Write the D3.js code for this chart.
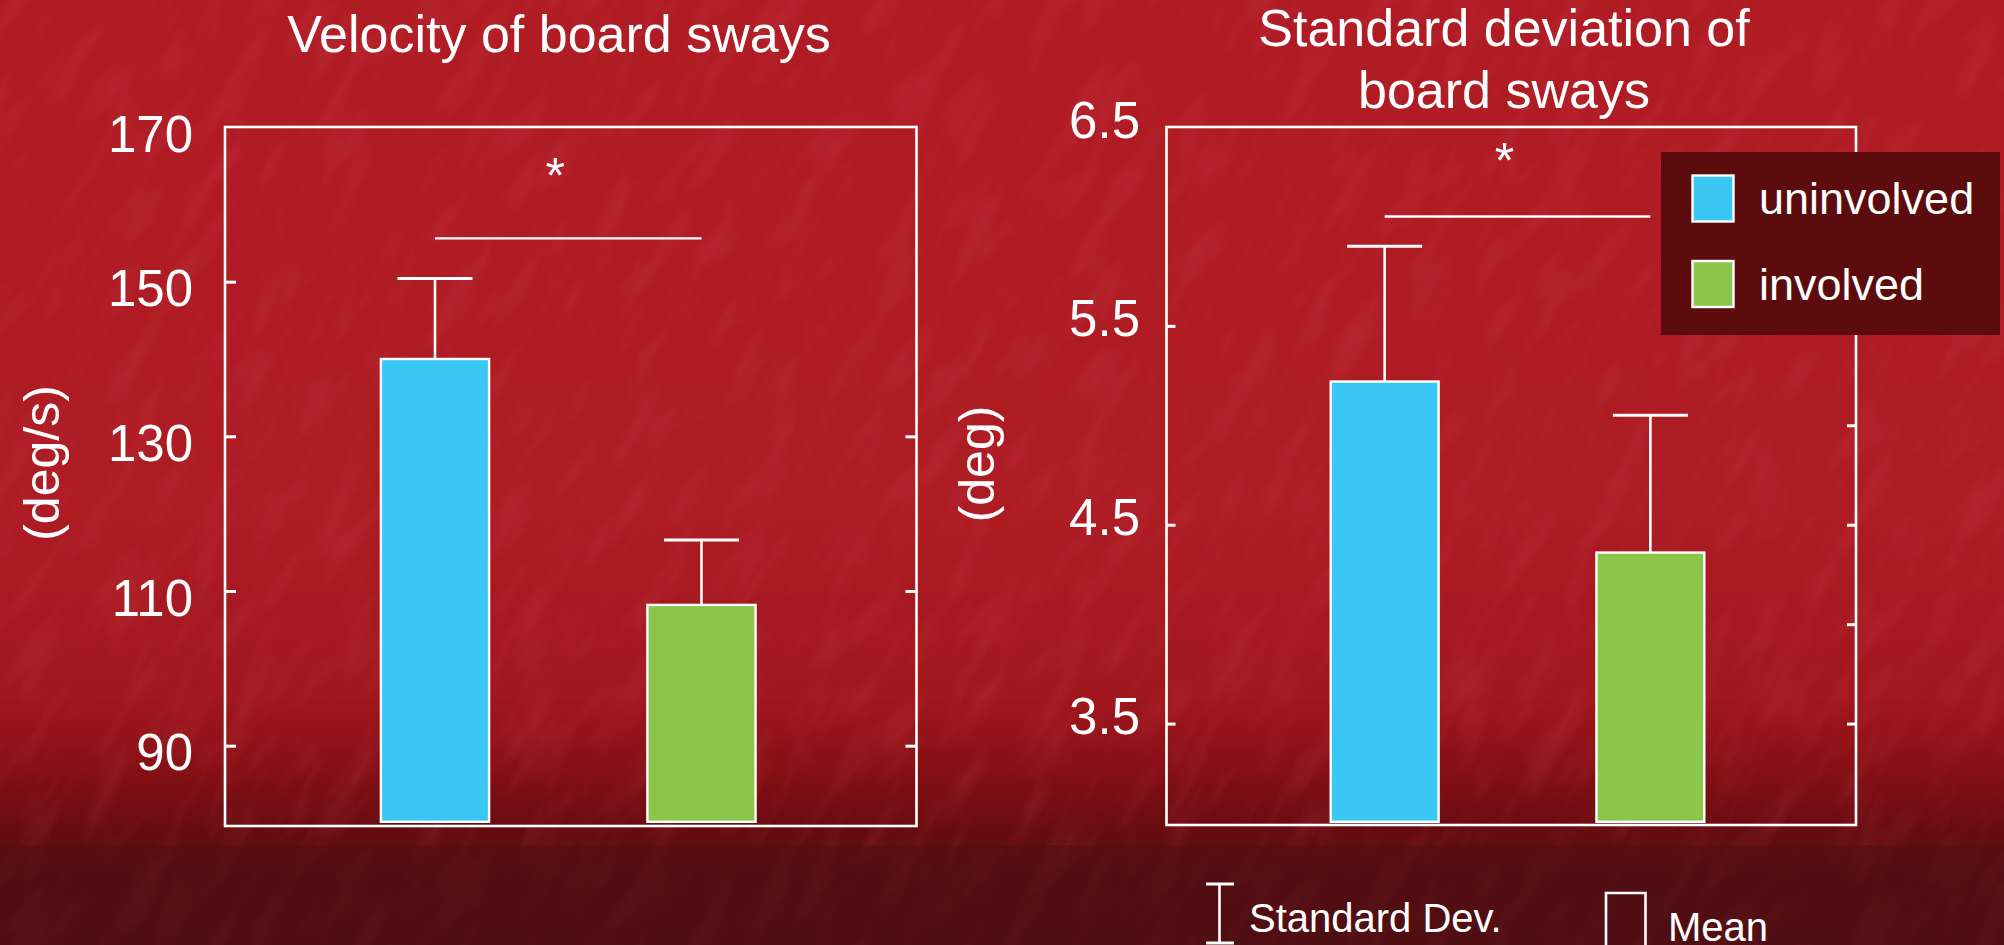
<!DOCTYPE html>
<html>
<head>
<meta charset="utf-8">
<script src="https://cdn.jsdelivr.net/npm/d3@7"></script>
<style>
  html, body { margin: 0; padding: 0; background: #7a1016; }
  svg { display: block; }
  text { font-family: "Liberation Sans", Arial, sans-serif; fill: #fff; }
</style>
</head>
<body>
<svg id="chart" width="2004" height="945"></svg>
<script>
// Groups compared in both panels
const categories = ["uninvolved", "involved"];
const barColors = ["#3bc7f4", "#8bc54a"];

// Panel 1: velocity of board sways (deg/s)
const velocityMean = [140.0, 108.2];
const velocitySD = [10.4, 8.4];
const velocityTicks = [90, 110, 130, 150, 170];
const velocityRightTicks = [90, 110, 130];
const velocityDomain = [80, 170];
const velocitySigLevel = 155.6;

// Panel 2: standard deviation of board sways (deg)
const swaySDMean = [5.22, 4.36];
const swaySDSD = [0.68, 0.69];
const swaySDTicks = [3.5, 4.5, 5.5, 6.5];
const swaySDRightTicks = [3.5, 4.0, 4.5, 5.0, 5.5, 6.0];
const swaySDDomain = [3, 6.5];
const swaySDSigLevel = 6.05;

// Text
const titles = [["Velocity of board sways"], ["Standard deviation of", "board sways"]];
const unitLabels = ["(deg/s)", "(deg)"];
const keyLabels = ["Standard Dev.", "Mean"];

const svg = d3.select("#chart");
const W = 2004, H = 945;

// ---- background: red textured surface darkening toward the bottom ----
const defs = svg.append("defs");
const bg = defs.append("linearGradient").attr("id", "bg").attr("x1", 0).attr("y1", 0).attr("x2", 0).attr("y2", 1);
[[0, "#b01c24"], [0.55, "#ad1b23"], [0.74, "#a0171d"], [0.82, "#830f14"], [0.88, "#650c11"], [0.93, "#570d12"], [1, "#4c0e12"]]
  .forEach(([o, c]) => bg.append("stop").attr("offset", o).attr("stop-color", c));

const tex = defs.append("filter").attr("id", "tex").attr("filterUnits", "userSpaceOnUse")
  .attr("x", -200).attr("y", -700).attr("width", 2400).attr("height", 2400);
tex.append("feTurbulence").attr("type", "fractalNoise").attr("baseFrequency", "0.012 0.04")
  .attr("numOctaves", 3).attr("seed", 11).attr("result", "noise");
tex.append("feColorMatrix").attr("in", "noise").attr("type", "matrix")
  .attr("values", "0 0 0 0 0.8  0 0 0 0 0.12  0 0 0 0 0.17  0 0 0 1.4 -0.62");

svg.append("rect").attr("width", W).attr("height", H).attr("fill", "url(#bg)");
// diagonal streaks of the surface texture
svg.append("g").attr("transform", `rotate(-60 ${W / 2} ${H / 2})`).attr("opacity", 0.22)
  .append("rect").attr("x", -200).attr("y", -700).attr("width", 2400).attr("height", 2400)
  .attr("filter", "url(#tex)");
// dark band along the bottom edge
svg.append("rect").attr("y", 845).attr("width", W).attr("height", 100).attr("fill", "#500e12").attr("opacity", 0.55);

// ---- panel drawing ----
function drawPanel(cfg) {
  const g = svg.append("g");
  const y = d3.scaleLinear().domain(cfg.domain).range([823, 127]);
  const x = d3.scaleBand().domain(categories).range([cfg.left, cfg.right])
    .paddingInner(0.585).paddingOuter(0.59).align(cfg.align);
  const bw = x.bandwidth();
  const capW = 75;

  // frame
  g.append("rect")
    .attr("x", cfg.left).attr("y", y(cfg.domain[1]))
    .attr("width", cfg.right - cfg.left).attr("height", y(cfg.domain[0]) + cfg.frameDrop - y(cfg.domain[1]))
    .attr("fill", "none").attr("stroke", "#fff").attr("stroke-width", 2.6);

  // left axis: inward ticks with labels
  const axL = g.append("g").attr("transform", `translate(${cfg.left},0)`)
    .call(d3.axisLeft(y).tickValues(cfg.ticks).tickSize(-cfg.tickLen).tickPadding(cfg.labelPad)
      .tickFormat(d => d3.format(cfg.fmt)(d)));
  axL.select(".domain").remove();
  axL.selectAll(".tick line").attr("stroke", "#fff").attr("stroke-width", 3)
    .filter(d => d === cfg.domain[1]).remove();
  axL.selectAll(".tick text").attr("dy", null).attr("y", cfg.labelDy)
    .style("font-size", "51px").style("fill", "#fff").attr("font-family", null);

  // right axis: inward ticks only
  const axR = g.append("g").attr("transform", `translate(${cfg.right},0)`)
    .call(d3.axisRight(y).tickValues(cfg.rightTicks).tickSize(-cfg.tickLen).tickFormat(""));
  axR.select(".domain").remove();
  axR.selectAll(".tick line").attr("stroke", "#fff").attr("stroke-width", 3);

  // error bars (upper SD)
  cfg.mean.forEach((m, i) => {
    const cx = x(categories[i]) + bw / 2;
    const top = y(m + cfg.sd[i]);
    g.append("line").attr("x1", cx).attr("x2", cx).attr("y1", y(m)).attr("y2", top)
      .attr("stroke", "#fff").attr("stroke-width", 2.6);
    g.append("line").attr("x1", cx - capW / 2).attr("x2", cx + capW / 2).attr("y1", top).attr("y2", top)
      .attr("stroke", "#fff").attr("stroke-width", 3);
  });

  // bars
  g.selectAll("rect.bar").data(cfg.mean).join("rect").attr("class", "bar")
    .attr("x", (d, i) => x(categories[i]) + 1.2)
    .attr("width", bw - 2.4)
    .attr("y", d => y(d))
    .attr("height", d => y(cfg.domain[0]) - y(d) - 1.2)
    .attr("fill", (d, i) => barColors[i])
    .attr("stroke", "#fff").attr("stroke-width", 2.4);

  // significance bracket
  const c0 = x(categories[0]) + bw / 2, c1 = x(categories[1]) + bw / 2;
  g.append("line").attr("x1", c0).attr("x2", c1)
    .attr("y1", y(cfg.sigLevel)).attr("y2", y(cfg.sigLevel))
    .attr("stroke", "#fff").attr("stroke-width", 2.4);
  g.append("text").attr("x", (c0 + c1) / 2 - 13).attr("y", cfg.starY)
    .attr("text-anchor", "middle").style("font-size", "50px").text("*");

  // title
  cfg.title.forEach((t, k) => {
    g.append("text").attr("x", cfg.titleX).attr("y", cfg.titleY[k])
      .attr("text-anchor", "middle").style("font-size", "52px").text(t);
  });

  // unit label
  g.append("text").attr("transform", `translate(${cfg.unitX},${cfg.unitY}) rotate(-90)`)
    .attr("text-anchor", "middle").style("font-size", "50px").text(cfg.unit);
  return { x, y };
}

drawPanel({
  left: 225, right: 916.5, align: 0.492, frameDrop: 3,
  domain: velocityDomain, ticks: velocityTicks, rightTicks: velocityRightTicks,
  tickLen: 11, labelPad: 32, labelDy: 24, fmt: "d",
  mean: velocityMean, sd: velocitySD, sigLevel: velocitySigLevel, starY: 193,
  title: titles[0], titleX: 559, titleY: [52],
  unit: unitLabels[0], unitX: 59, unitY: 463
});

drawPanel({
  left: 1166.5, right: 1856, align: 0.52, frameDrop: 2,
  domain: swaySDDomain, ticks: swaySDTicks, rightTicks: swaySDRightTicks,
  tickLen: 9, labelPad: 26.5, labelDy: 10, fmt: ".1f",
  mean: swaySDMean, sd: swaySDSD, sigLevel: swaySDSigLevel, starY: 178,
  title: titles[1], titleX: 1504, titleY: [46, 108],
  unit: unitLabels[1], unitX: 994, unitY: 464
});

// ---- group legend ----
const leg = svg.append("g");
leg.append("rect").attr("x", 1661).attr("y", 152).attr("width", 339).attr("height", 183).attr("fill", "#5c0c0c");
categories.forEach((c, i) => {
  leg.append("rect").attr("x", 1692.5).attr("y", 175.5 + i * 85.5).attr("width", 41).attr("height", 46)
    .attr("fill", barColors[i]).attr("stroke", "#fff").attr("stroke-width", 2.4);
  leg.append("text").attr("x", 1759).attr("y", 214 + i * 86).style("font-size", "45px").text(c);
});

// ---- key for bar elements ----
const key = svg.append("g").attr("stroke", "#fff").attr("fill", "none");
key.append("line").attr("x1", 1219.5).attr("x2", 1219.5).attr("y1", 884).attr("y2", 943).attr("stroke-width", 2.6);
key.append("line").attr("x1", 1206).attr("x2", 1234).attr("y1", 884).attr("y2", 884).attr("stroke-width", 3);
key.append("line").attr("x1", 1206).attr("x2", 1234).attr("y1", 943).attr("y2", 943).attr("stroke-width", 3);
key.append("path").attr("d", "M1606,946 V893 H1645.5 V946").attr("stroke-width", 2.6);
svg.append("text").attr("x", 1249).attr("y", 932).style("font-size", "40px").text(keyLabels[0]);
svg.append("text").attr("x", 1668).attr("y", 941).style("font-size", "40px").text(keyLabels[1]);
</script>
</body>
</html>
